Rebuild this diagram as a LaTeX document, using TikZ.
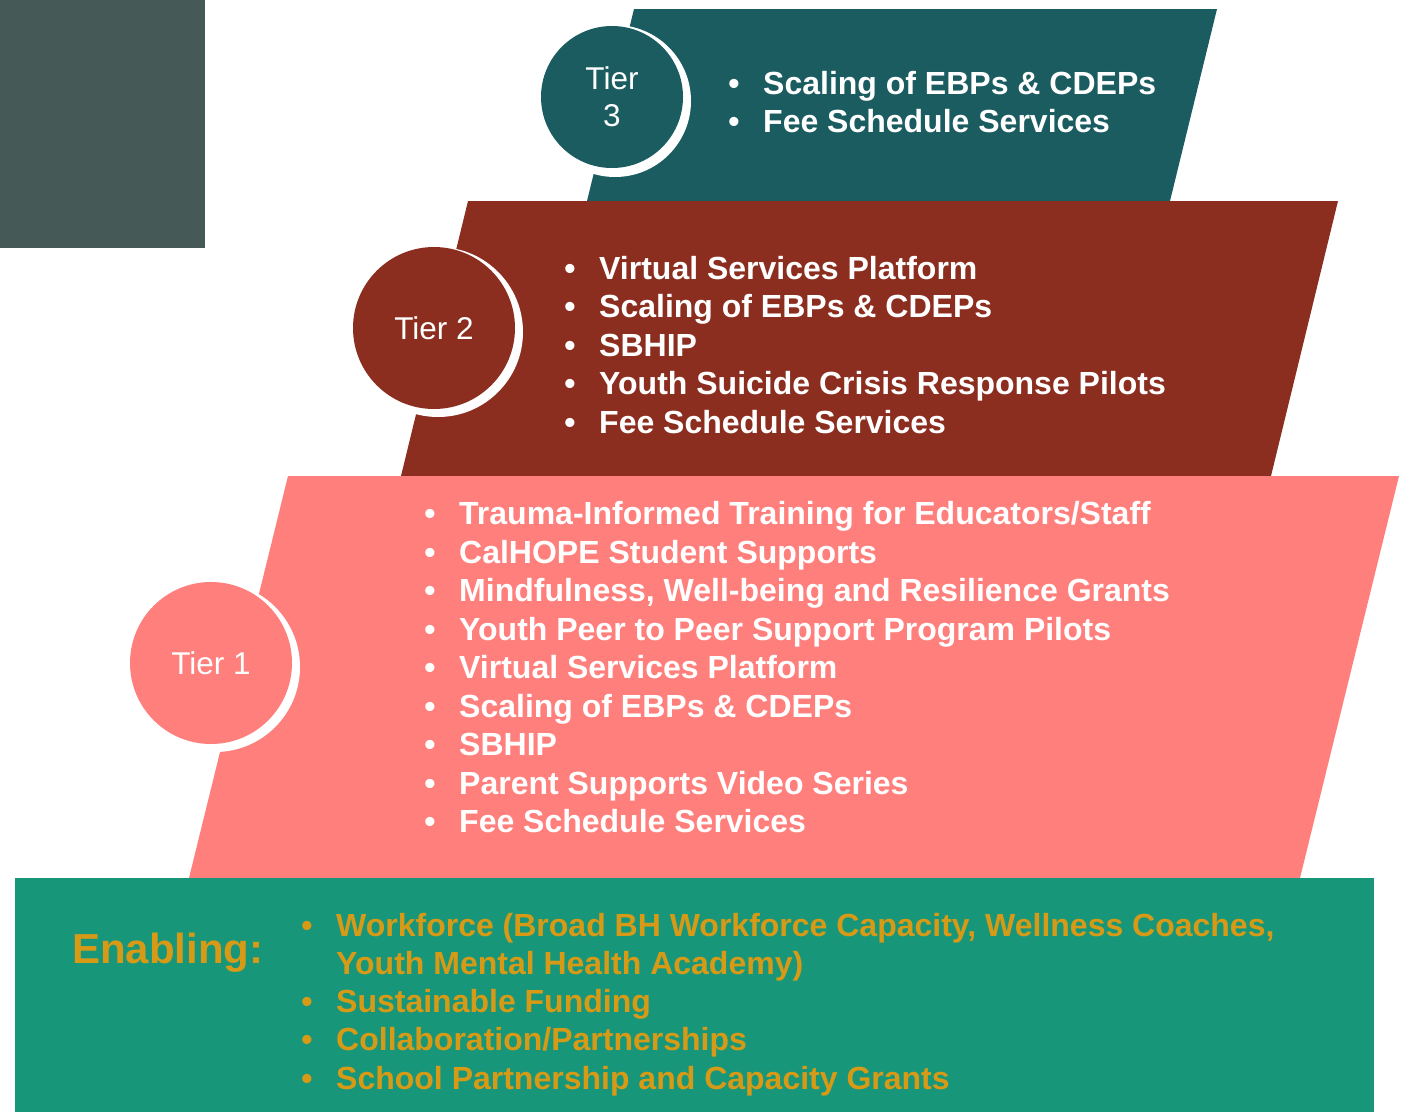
\documentclass[tikz,border=0pt]{standalone}
\usepackage{fontspec}
\setmainfont{Liberation Sans}
\definecolor{slate}{HTML}{455A57}
\definecolor{tthree}{HTML}{1B5C61}
\definecolor{ttwo}{HTML}{8B2E1F}
\definecolor{tone}{HTML}{FF7F7C}
\definecolor{enab}{HTML}{18967A}
\definecolor{gold}{HTML}{D69A16}
\begin{document}
\begin{tikzpicture}[x=1pt,y=-1pt,
  itemtext/.style={anchor=base west, inner sep=0pt, font=\fontsize{32}{38}\selectfont\bfseries},
  bulletmark/.style={anchor=base, inner sep=0pt, font=\fontsize{32}{38}\selectfont\bfseries},
  tiercircle/.style={circle, inner sep=0pt, text=white, align=center, font=\fontsize{31.5}{37}\selectfont},
  ringback/.style={fill=white}
]
\useasboundingbox (0,0) rectangle (1406,1112);
% background decoration
\fill[slate] (0,0) rectangle (205,248);
% tiers
\fill[tthree] (634,9) -- (1217,9) -- (1170,201) -- (587,201) -- cycle;
\fill[ttwo] (468,201) -- (1338,201) -- (1271,476) -- (401,476) -- cycle;
\fill[tone] (288,476) -- (1399,476) -- (1300,878) -- (189,878) -- cycle;
\fill[enab] (15,878) rectangle (1374,1112);
% circles
\fill[ringback] (615,101) circle[radius=76];
\node[tiercircle, fill=tthree, minimum size=142pt] (c3) at (612,97) {Tier\\3};
\fill[ringback] (438,332) circle[radius=85];
\node[tiercircle, fill=ttwo, minimum size=162pt] (c2) at (434,328) {Tier 2};
\fill[ringback] (215,667) circle[radius=85];
\node[tiercircle, fill=tone, minimum size=162pt] (c1) at (211,663) {Tier 1};
% tier 3 list
\foreach [count=\i from 0] \t in {Scaling of EBPs \& CDEPs, Fee Schedule Services} {
  \node[bulletmark, text=white] (b3\i) at (734,{94+38.5*\i}) {•};
  \node[itemtext, text=white] (i3\i) at (763,{94+38.5*\i}) {\t};
}
% tier 2 list
\foreach [count=\i from 0] \t in {Virtual Services Platform, Scaling of EBPs \& CDEPs, SBHIP, Youth Suicide Crisis Response Pilots, Fee Schedule Services} {
  \node[bulletmark, text=white] (b2\i) at (570,{279+38.5*\i}) {•};
  \node[itemtext, text=white] (i2\i) at (599,{279+38.5*\i}) {\t};
}
% tier 1 list
\foreach [count=\i from 0] \t in {Trauma-Informed Training for Educators/Staff, CalHOPE Student Supports, {Mindfulness, Well-being and Resilience Grants}, Youth Peer to Peer Support Program Pilots, Virtual Services Platform, Scaling of EBPs \& CDEPs, SBHIP, Parent Supports Video Series, Fee Schedule Services} {
  \node[bulletmark, text=white] (b1\i) at (430,{524.5+38.5*\i}) {•};
  \node[itemtext, text=white] (i1\i) at (459,{524.5+38.5*\i}) {\t};
}
% enabling
\node[anchor=base west, inner sep=0pt, text=gold, font=\fontsize{42}{48}\selectfont\bfseries] (enl) at (72,963) {Enabling:};
\foreach [count=\i from 0] \t in {{Workforce (Broad BH Workforce Capacity, Wellness Coaches,}, Youth Mental Health Academy), Sustainable Funding, Collaboration/Partnerships, School Partnership and Capacity Grants} {
  \node[itemtext, text=gold] (ei\i) at (336,{936+38.3*\i}) {\t};
}
\foreach \i in {0,2,3,4} {
  \node[bulletmark, text=gold] (eb\i) at (307,{936+38.3*\i}) {•};
}
\end{tikzpicture}
\end{document}
